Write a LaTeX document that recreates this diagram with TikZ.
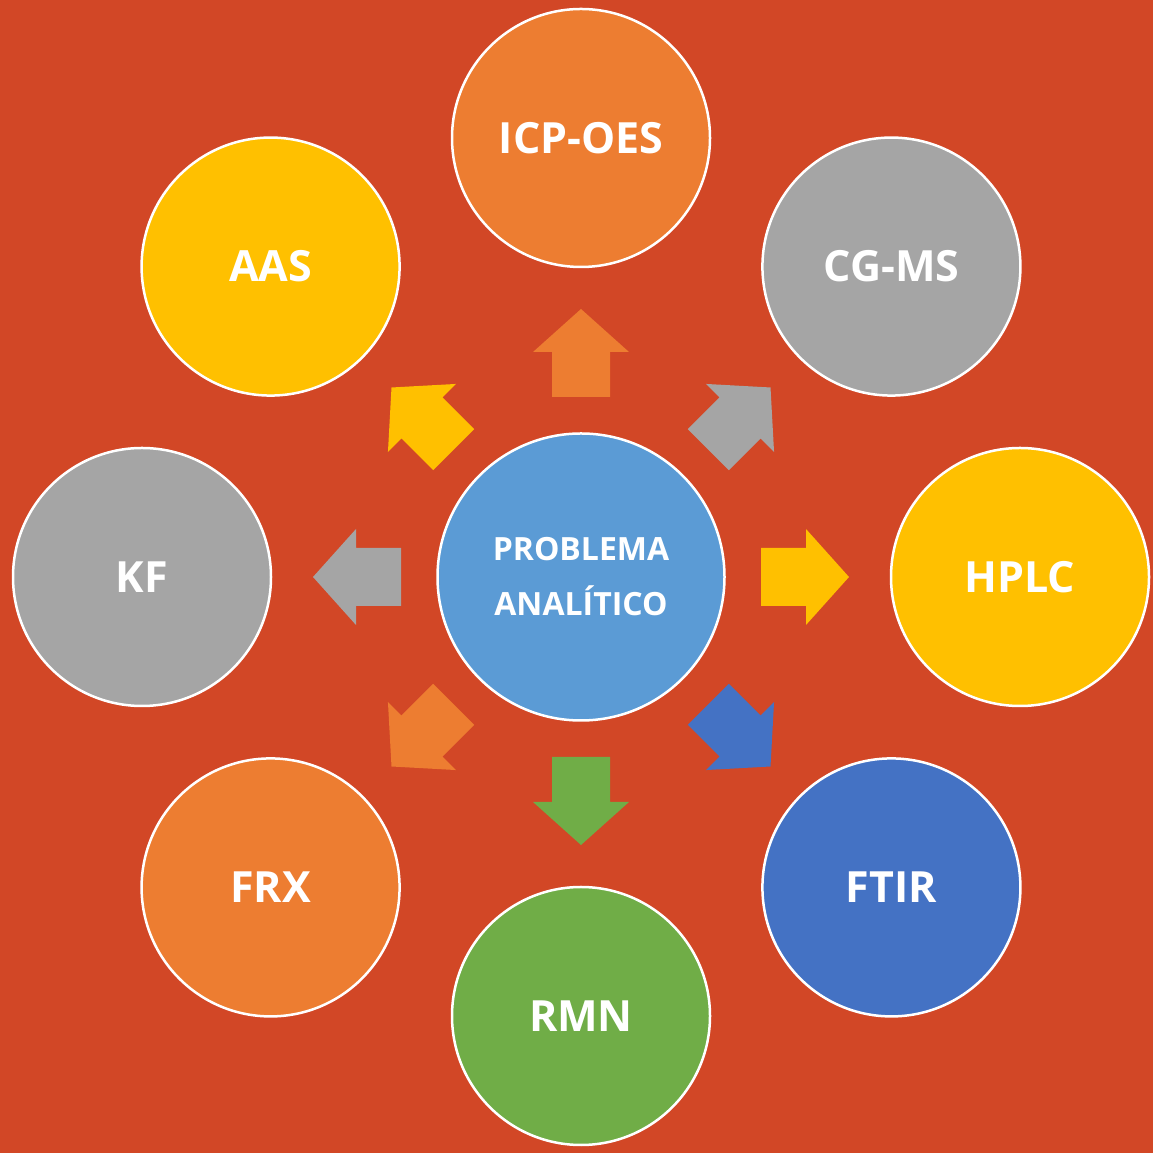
\documentclass[tikz,border=0pt]{standalone}
\usepackage{fontspec}
\setmainfont{Open Sans}
\usetikzlibrary{calc}
\definecolor{bgred}{HTML}{D24726}
\definecolor{corange}{HTML}{ED7D31}
\definecolor{cgray}{HTML}{A5A5A5}
\definecolor{cyellow}{HTML}{FFC000}
\definecolor{cblue}{HTML}{4472C4}
\definecolor{cgreen}{HTML}{70AD47}
\definecolor{clight}{HTML}{5B9BD5}
\tikzset{
  outer/.style={circle, draw=white, line width=2.5pt, minimum size=258pt, inner sep=0pt,
    text=white, font=\fontsize{43}{50}\selectfont\bfseries, fill=#1},
  inner/.style={circle, draw=white, line width=2.5pt, minimum size=287pt, inner sep=0pt,
    text=white, align=center, font=\fontsize{32}{55}\selectfont\bfseries, fill=#1},
  blockarr/.pic={\fill[#1] (-44,-29) -- (1,-29) -- (1,-48) -- (44,0) -- (1,48) -- (1,29) -- (-44,29) -- cycle;}
}
\begin{document}
\begin{tikzpicture}[x=1pt,y=1pt]
\fill[bgred] (0,0) rectangle (1153,1153);
\useasboundingbox (0,0) rectangle (1153,1153);
\node[inner=clight] (C) at (581,576) {PROBLEMA\\ANALÍTICO};
\node[outer=corange] (icp) at ($(C)+(90:439)$) {ICP-OES};
\node[outer=cgray] (cg) at ($(C)+(45:439)$) {CG-MS};
\node[outer=cyellow] (hplc) at ($(C)+(0:439)$) {HPLC};
\node[outer=cblue] (ftir) at ($(C)+(-45:439)$) {FTIR};
\node[outer=cgreen] (rmn) at ($(C)+(-90:439)$) {RMN};
\node[outer=corange] (frx) at ($(C)+(-135:439)$) {FRX};
\node[outer=cgray] (kf) at ($(C)+(180:439)$) {KF};
\node[outer=cyellow] (aas) at ($(C)+(135:439)$) {AAS};
\pic[rotate=90] at ($(C)+(90:224)$) {blockarr=corange};
\pic[rotate=45] at ($(C)+(45:224)$) {blockarr=cgray};
\pic[rotate=0] at ($(C)+(0:224)$) {blockarr=cyellow};
\pic[rotate=-45] at ($(C)+(-45:224)$) {blockarr=cblue};
\pic[rotate=-90] at ($(C)+(-90:224)$) {blockarr=cgreen};
\pic[rotate=-135] at ($(C)+(-135:224)$) {blockarr=corange};
\pic[rotate=180] at ($(C)+(180:224)$) {blockarr=cgray};
\pic[rotate=135] at ($(C)+(135:224)$) {blockarr=cyellow};
\end{tikzpicture}
\end{document}
